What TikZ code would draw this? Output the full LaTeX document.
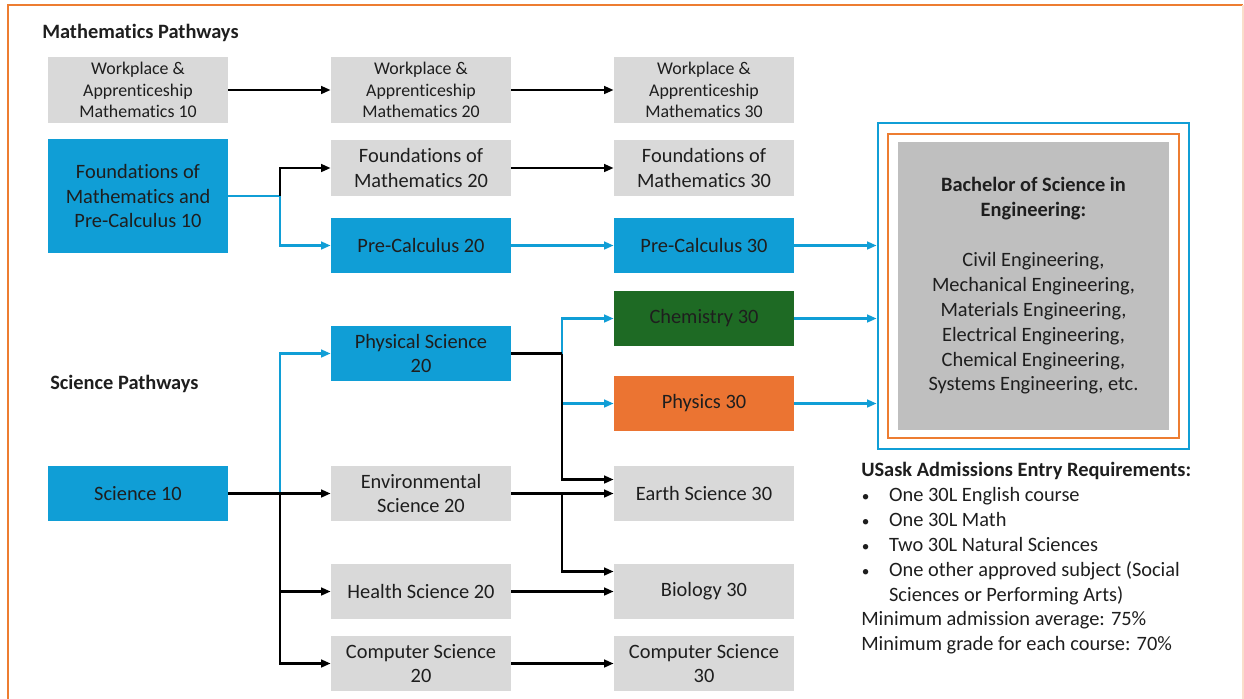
\documentclass[tikz,border=0pt]{standalone}
\usepackage{fontspec}
\setmainfont{Carlito}[Ligatures=NoCommon]
\usepackage{xcolor}
\definecolor{skyblue}{RGB}{16,158,214}
\definecolor{boxgray}{RGB}{217,217,217}
\definecolor{enggray}{RGB}{191,191,191}
\definecolor{chemgreen}{RGB}{30,106,36}
\definecolor{physorange}{RGB}{235,116,50}
\definecolor{frameorange}{RGB}{237,125,49}
\definecolor{txt}{RGB}{30,30,30}
\usepackage{tikz}
\usetikzlibrary{
  arrows.meta,
  positioning,
  fit,
  calc
}
\newcommand{\boxfont}{\fontsize{14.5}{17.7}\selectfont}
\newcommand{\wamfont}{\fontsize{12.7}{15.3}\selectfont}
\newcommand{\reqbullet}{\makebox[19.8pt][l]{\hspace{0.5pt}\scalebox{0.75}{\textbullet}}}

\begin{document}
\begin{tikzpicture}[
  x=0.025cm, y=-0.025cm,
  course/.style={rectangle, minimum width=4.5cm, minimum height=1.375cm, inner sep=2pt, align=center, font=\boxfont, text=txt},
  graycourse/.style={course, fill=boxgray},
  bluecourse/.style={course, fill=skyblue},
  heading/.style={anchor=west, inner sep=0, font=\boxfont\bfseries, text=txt},
  bkpipe/.style={-{Triangle[length=2.4mm, width=1.9mm]}, line width=1.8pt, black},
  blpipe/.style={-{Triangle[length=2.4mm, width=1.9mm]}, line width=1.8pt, skyblue},
  bkline/.style={line width=1.8pt, black},
  blline/.style={line width=1.8pt, skyblue}
]
  \useasboundingbox (0,0) rectangle (1244,698);

  % Frame
  \draw[frameorange, line width=2pt] (8,720) -- (8,5) -- (1243,5);
  \draw[frameorange!25, line width=1pt] (1243,5) -- (1243,720);

  % Headings
  \node[heading] (mtitle) at (42,33) {Mathematics Pathways};
  \node[heading] (stitle) at (50,384) {Science Pathways};

  % Mathematics
  \node[graycourse, minimum height=1.65cm, font=\wamfont] (wam10) at (138,90) {Workplace \&\\Apprenticeship\\Mathematics 10};
  \node[graycourse, minimum height=1.65cm, font=\wamfont] (wam20) at (421,90) {Workplace \&\\Apprenticeship\\Mathematics 20};
  \node[graycourse, minimum height=1.65cm, font=\wamfont] (wam30) at (704,90) {Workplace \&\\Apprenticeship\\Mathematics 30};

  \node[bluecourse, minimum height=2.85cm] (fpc10) at (138,196) {Foundations of\\Mathematics and\\Pre-Calculus 10};
  \node[graycourse] (fom20) at (421,168) {Foundations of\\Mathematics 20};
  \node[graycourse] (fom30) at (704,168) {Foundations of\\Mathematics 30};
  \node[bluecourse] (pc20) at (421,245.5) {Pre-Calculus 20};
  \node[bluecourse] (pc30) at (704,245.5) {Pre-Calculus 30};

  % Science
  \node[bluecourse] (sci10) at (138,493.5) {Science 10};
  \node[bluecourse] (ps20) at (421,353.5) {Physical Science\\20};
  \node[graycourse] (env20) at (421,493.5) {Environmental\\Science 20};
  \node[graycourse] (hs20) at (421,591.5) {Health Science 20};
  \node[graycourse] (cs20) at (421,663.5) {Computer Science\\20};

  \node[course, fill=chemgreen] (chem30) at (704,318.5) {Chemistry 30};
  \node[course, fill=physorange] (phys30) at (704,403.5) {Physics 30};
  \node[graycourse] (earth30) at (704,493.5) {Earth Science 30};
  \node[graycourse] (bio30) at (704,591.5) {Biology 30};
  \node[graycourse] (cs30) at (704,663.5) {Computer Science\\30};

  % Engineering
  \node[fill=enggray, minimum width=6.775cm, minimum height=7.2cm, inner sep=0, align=center, font=\boxfont, text=txt] (eng) at (1033.5,286)
    {\textbf{Bachelor of Science in}\\\textbf{Engineering:}\\[17.7pt]
     Civil Engineering,\\Mechanical Engineering,\\Materials Engineering,\\Electrical Engineering,\\Chemical Engineering,\\Systems Engineering, etc.};
  \node[draw=frameorange, line width=1.4pt, fit=(eng), inner xsep=0.25cm, inner ysep=0.19cm] (engo) {};
  \node[draw=skyblue, line width=1.4pt, fit=(eng), inner xsep=0.5cm, inner ysep=0.47cm] (engb) {};

  % Requirements
  \node[anchor=north west, inner sep=0, align=left, font=\boxfont, text=txt] (req) at (861,462)
    {\textbf{USask Admissions Entry Requirements:}\\
     \reqbullet One 30L English course\\
     \reqbullet One 30L Math\\
     \reqbullet Two 30L Natural Sciences\\
     \reqbullet One other approved subject (Social\\
     \hspace*{19.8pt}Sciences or Performing Arts)\\
     Minimum admission average: 75\%\\
     Minimum grade for each course: 70\%};

  % Junctions
  \coordinate (jfpc) at (280,196);
  \coordinate (jsci) at (280,493.5);
  \coordinate (jps) at (562,353.5);
  \coordinate (jenv) at (562,493.5);

  % Math pipes
  \draw[bkpipe] (wam10) -- (wam20);
  \draw[bkpipe] (wam20) -- (wam30);
  \draw[blline] (fpc10.east |- jfpc) -- (jfpc);
  \draw[bkpipe] (jfpc) |- (fom20.west);
  \draw[blpipe] (jfpc) |- (pc20.west);
  \draw[bkpipe] (fom20) -- (fom30);
  \draw[blpipe] (pc20) -- (pc30);

  % Science pipes
  \draw[blpipe] (jsci) |- (ps20.west);
  \draw[bkline] (sci10.east) -- (jsci);
  \draw[bkpipe] (jsci) -- (env20.west);
  \draw[bkpipe] (jsci) |- (hs20.west);
  \draw[bkpipe] (jsci) |- (cs20.west);

  \draw[blpipe] (jps) |- (chem30.west);
  \draw[blpipe] (jps) |- (phys30.west);
  \draw[bkline] (ps20.east) -- (jps);
  \draw[bkpipe] (jps) |- ([yshift=0.35cm]earth30.west);

  \draw[bkpipe] (env20) -- (earth30);
  \draw[bkpipe] (jenv) |- ([yshift=0.5cm]bio30.west);
  \draw[bkpipe] (hs20) -- (bio30);
  \draw[bkpipe] (cs20) -- (cs30);

  % Into engineering
  \draw[blpipe] (pc30.east) -- (pc30.east -| engb.west);
  \draw[blpipe] (chem30.east) -- (chem30.east -| engb.west);
  \draw[blpipe] (phys30.east) -- (phys30.east -| engb.west);
\end{tikzpicture}
\end{document}
